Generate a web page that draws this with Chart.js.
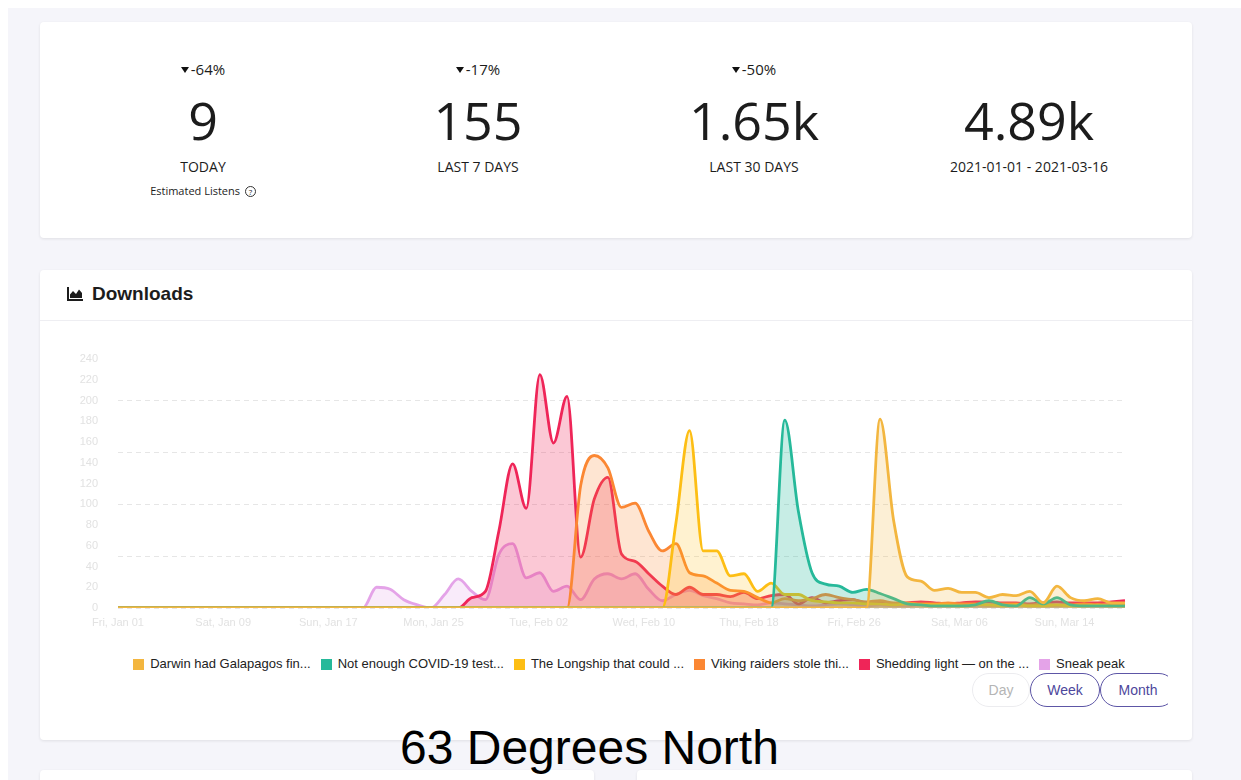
<!DOCTYPE html>
<html>
<head>
<meta charset="utf-8">
<script src="https://cdn.jsdelivr.net/npm/chart.js@4.4.1/dist/chart.umd.min.js"></script>
<style>
  html, body { margin: 0; padding: 0; }
  body {
    width: 1241px; height: 780px; overflow: hidden; position: relative;
    background: #fff; color: #1c1c1c;
    font-family: "Open Sans", "Noto Sans", sans-serif;
  }
  .bg { position: absolute; left: 8px; top: 8px; right: 0; bottom: 0; background: #f5f5fa; }
  .card { position: absolute; background: #fff; border-radius: 4px; box-shadow: 0 1px 3px rgba(0,0,0,0.09); }
  .stat { position: absolute; top: 0; width: 260px; height: 216px; text-align: center; }
  .stat div { position: absolute; left: 0; width: 100%; }
  .change { top: 38px; font-size: 15px; line-height: 18px; }
  .tri { display: inline-block; width: 0; height: 0; border-left: 4.5px solid transparent; border-right: 4.5px solid transparent; border-top: 6px solid #111; margin-right: 2px; vertical-align: 2px; }
  .big { top: 66px; font-size: 52px; line-height: 64px; }
  .lbl { top: 136px; font-size: 14px; line-height: 18px; }
  .est { top: 162px; font-size: 11px; line-height: 14px; }
  .q { display: inline-block; width: 9px; height: 9px; border: 1px solid #333; border-radius: 50%; font-size: 8px; line-height: 9px; text-align: center; vertical-align: 0; margin-left: 2px; }
  .head { position: absolute; left: 27px; top: 12px; height: 24px; font-family: "Liberation Sans", Arial, sans-serif; font-weight: bold; font-size: 19px; line-height: 24px; }
  .head svg { vertical-align: -1px; margin-right: 9px; }
  .rule { position: absolute; left: 0; right: 0; top: 50px; height: 1px; background: #eeeef2; }
  #legend-downloads { position: absolute; left: 0; top: 386px; width: 1178px; height: 16px; }
  #legend-downloads ul { display: flex; justify-content: center; margin: 0; padding: 0; list-style: none; white-space: nowrap; font-family: "Liberation Sans", Arial, sans-serif; font-size: 13px; line-height: 16px; color: #222; }
  .btns { position: absolute; left: 932px; top: 403px; width: 196px; height: 34px; overflow: hidden; display: flex; font-family: "Liberation Sans", Arial, sans-serif; font-size: 14px; }
  .btns span { box-sizing: border-box; height: 34px; line-height: 32px; text-align: center; border-radius: 17px; flex: none; }
  .title { position: absolute; left: 400px; top: 721px; font-family: "Liberation Sans", Arial, sans-serif; font-size: 48px; line-height: 54px; color: #000; white-space: nowrap; }
</style>
</head>
<body>
<div class="bg"></div>

<div class="card" style="left:40px;top:22px;width:1152px;height:216px">
  <div class="stat" style="left:33px">
    <div class="change"><span class="tri"></span>-64%</div>
    <div class="big">9</div>
    <div class="lbl">TODAY</div>
    <div class="est">Estimated Listens <span class="q">?</span></div>
  </div>
  <div class="stat" style="left:308px">
    <div class="change"><span class="tri"></span>-17%</div>
    <div class="big">155</div>
    <div class="lbl">LAST 7 DAYS</div>
  </div>
  <div class="stat" style="left:584px">
    <div class="change"><span class="tri"></span>-50%</div>
    <div class="big">1.65k</div>
    <div class="lbl">LAST 30 DAYS</div>
  </div>
  <div class="stat" style="left:859px">
    <div class="big">4.89k</div>
    <div class="lbl">2021-01-01 - 2021-03-16</div>
  </div>
</div>

<div class="card" style="left:40px;top:270px;width:1152px;height:470px">
  <div class="head"><svg width="16" height="14" viewBox="0 0 16 14"><path d="M0 0h2v12h14v2H0z" fill="#1c1c1c"/><path d="M3 11V7.5l3-3.5 3 3 3-4.5 3 3.5V11z" fill="#1c1c1c"/></svg>Downloads</div>
  <div class="rule"></div>
  <div style="position:absolute;left:24px;top:70px;width:1130px;height:292px">
    <canvas id="downloads" width="1130" height="292"></canvas>
  </div>
  <div id="legend-downloads"></div>
  <div class="btns">
    <span style="width:58px;border:1px solid #ececef;color:#b5b5b5">Day</span>
    <span style="width:70px;border:1.5px solid #5d56a6;color:#4d479c">Week</span>
    <span style="width:76px;border:1.5px solid #5d56a6;color:#4d479c">Month</span>
  </div>
</div>

<div class="card" style="left:40px;top:770px;width:554px;height:40px"></div>
<div class="card" style="left:637px;top:770px;width:555px;height:40px"></div>

<div class="title">63 Degrees North</div>

<script>
// ---------------- data (daily, 2021-01-01 .. 2021-03-16) ----------------
const seriesNames = [
  "Darwin had Galapagos fin...",
  "Not enough COVID-19 test...",
  "The Longship that could ...",
  "Viking raiders stole thi...",
  "Shedding light \u2014 on the ...",
  "Sneak peak",
];

const darwin = [
  0, 0, 0, 0, 0, 0, 0, 0, 0, 0,
  0, 0, 0, 0, 0, 0, 0, 0, 0, 0,
  0, 0, 0, 0, 0, 0, 0, 0, 0, 0,
  0, 0, 0, 0, 0, 0, 0, 0, 0, 0,
  0, 0, 0, 0, 0, 0, 0, 0, 0, 0,
  0, 0, 0, 0, 0, 0, 182, 84, 30, 26,
  17, 19, 15, 15, 10, 13, 12, 16, 5, 21,
  10, 7, 9, 5, 5,
];
const covid = [
  0, 0, 0, 0, 0, 0, 0, 0, 0, 0,
  0, 0, 0, 0, 0, 0, 0, 0, 0, 0,
  0, 0, 0, 0, 0, 0, 0, 0, 0, 0,
  0, 0, 0, 0, 0, 0, 0, 0, 0, 0,
  0, 0, 0, 0, 0, 0, 0, 0, 0, 181,
  93, 34, 23, 21, 15, 18, 14, 9, 4, 3,
  2, 2, 2, 3, 7, 3, 2, 10, 4, 10,
  3, 2, 2, 2, 2,
];
const longship = [
  0, 0, 0, 0, 0, 0, 0, 0, 0, 0,
  0, 0, 0, 0, 0, 0, 0, 0, 0, 0,
  0, 0, 0, 0, 0, 0, 0, 0, 0, 0,
  0, 0, 0, 0, 0, 0, 0, 0, 0, 0,
  0, 82, 171, 55, 55, 31, 33, 16, 24, 13,
  13, 7, 6, 5, 5, 4, 4, 3, 4, 3,
  3, 3, 2, 3, 3, 2, 3, 2, 2, 3,
  2, 2, 3, 2, 2,
];
const viking = [
  0, 0, 0, 0, 0, 0, 0, 0, 0, 0,
  0, 0, 0, 0, 0, 0, 0, 0, 0, 0,
  0, 0, 0, 0, 0, 0, 0, 0, 0, 0,
  0, 0, 0, 0, 118, 147, 135, 97, 101, 74,
  55, 62, 34, 31, 24, 17, 16, 10, 5, 9,
  7, 9, 13, 10, 8, 6, 7, 5, 5, 4,
  4, 5, 4, 4, 3, 4, 4, 3, 4, 3,
  3, 4, 3, 3, 4,
];
const shedding = [
  0, 0, 0, 0, 0, 0, 0, 0, 0, 0,
  0, 0, 0, 0, 0, 0, 0, 0, 0, 0,
  0, 0, 0, 0, 0, 0, 10, 16, 75, 139,
  96, 225, 159, 204, 49, 105, 126, 52, 45, 33,
  21, 13, 20, 13, 13, 11, 15, 9, 12, 13,
  4, 10, 5, 7, 8, 5, 5, 4, 5, 6,
  5, 4, 5, 6, 6, 5, 5, 4, 5, 6,
  5, 5, 5, 6, 7,
];
const sneak = [
  0, 0, 0, 0, 0, 0, 0, 0, 0, 0,
  0, 0, 0, 0, 0, 0, 0, 0, 0, 20,
  18, 8, 3, 0, 13, 28, 16, 8, 52, 62,
  29, 34, 16, 21, 8, 28, 33, 28, 33, 18,
  7, 13, 17, 12, 9, 5, 4, 3, 5, 4,
  3, 2, 3, 4, 3, 2, 3, 2, 2, 3,
  2, 2, 3, 2, 2, 2, 3, 2, 2, 2,
  3, 2, 2, 2, 2,
];

const xTickLabels = [
  "Fri, Jan 01", "Sat, Jan 09", "Sun, Jan 17", "Mon, Jan 25", "Tue, Feb 02",
  "Wed, Feb 10", "Thu, Feb 18", "Fri, Feb 26", "Sat, Mar 06", "Sun, Mar 14",
];
const yGridSteps = [0, 50, 100, 150, 200];

// ---------------- style ----------------
const lineColors = ["#f3b63f", "#26b99a", "#fdbe14", "#fb8733", "#ef2558", "#e4a3e8"];
const fillColors = [
  "rgba(243,182,63,0.22)", "rgba(38,185,154,0.26)", "rgba(253,190,20,0.2)",
  "rgba(251,135,51,0.22)", "rgba(239,37,88,0.25)", "rgba(228,163,232,0.22)",
];
const allSeries = [darwin, covid, longship, viking, shedding, sneak];
const axisFont = { family: '"Liberation Sans", Arial, sans-serif', size: 11 };
const faint = "#e2e2e2";

// one category per day
const dayLabels = [];
for (let i = 0; i < darwin.length; i++) {
  const d = new Date(Date.UTC(2021, 0, 1 + i));
  dayLabels.push(d.toISOString().slice(0, 10));
}

// ---------------- html legend ----------------
const htmlLegendPlugin = {
  id: "htmlLegend",
  afterUpdate(chart, args, options) {
    const box = document.getElementById(options.containerID);
    let ul = box.querySelector("ul");
    if (!ul) {
      ul = document.createElement("ul");
      box.appendChild(ul);
    }
    while (ul.firstChild) ul.firstChild.remove();

    const items = chart.options.plugins.legend.labels.generateLabels(chart);
    items.forEach((item, i) => {
      const li = document.createElement("li");
      li.style.display = "flex";
      li.style.alignItems = "center";
      li.style.marginLeft = i === 0 ? "0" : "10px";

      // color box
      const sw = document.createElement("span");
      sw.style.display = "inline-block";
      sw.style.width = "11px";
      sw.style.height = "11px";
      sw.style.marginRight = "6px";
      sw.style.background = item.strokeStyle;

      const txt = document.createElement("span");
      txt.textContent = item.text;

      li.appendChild(sw);
      li.appendChild(txt);
      ul.appendChild(li);
    });
  },
};

const data = {
  labels: dayLabels,
  datasets: seriesNames.map((name, i) => ({
    label: name,
    data: allSeries[i],
    borderColor: lineColors[i],
    backgroundColor: fillColors[i],
    fill: "origin",
    borderWidth: 2.8,
    pointRadius: 0,
    pointHoverRadius: 0,
    cubicInterpolationMode: "monotone",
  })),
};

const config = {
  type: "line",
  data: data,
  options: {
    responsive: false,
    animation: false,
    layout: { padding: { top: 19, right: 69, left: 0, bottom: 0 } },
    plugins: {
      tooltip: { enabled: false },
      legend: { display: false },
      htmlLegend: { containerID: "legend-downloads" },
    },
    scales: {
      x: { type: "category", display: false },
      // date labels: in the reference the 8-day ticks sit a bit tighter than the daily points
      xLabels: {
        type: "linear",
        position: "bottom",
        min: 0,
        max: 76.6,
        afterBuildTicks: (s) => { s.ticks = xTickLabels.map((t, i) => ({ value: i * 8 })); },
        afterFit: (s) => { s.height = 24; },
        ticks: {
          autoSkip: false,
          maxRotation: 0,
          padding: 8,
          color: faint,
          font: axisFont,
          callback: (v, i) => xTickLabels[i],
        },
        grid: { display: false, drawTicks: false },
        border: { display: false },
      },
      y: {
        min: 0,
        max: 240,
        afterFit: (s) => { s.width = 54; },
        // tick length (not drawn) pushes the labels left without adding top padding
        ticks: { stepSize: 20, padding: 2, color: faint, font: axisFont },
        grid: { display: false, drawTicks: true, tickLength: 18 },
        border: { display: false },
      },
      yGrid: {
        position: "left",
        min: 0,
        max: 240,
        afterBuildTicks: (s) => { s.ticks = yGridSteps.map((v) => ({ value: v })); },
        afterFit: (s) => { s.width = 0; },
        ticks: { display: false },
        grid: { color: "#e6e6e6", drawTicks: false },
        border: { display: false, dash: [5, 4] },
      },
    },
  },
  plugins: [htmlLegendPlugin],
};

new Chart(document.getElementById("downloads"), config);
</script>
</body>
</html>
